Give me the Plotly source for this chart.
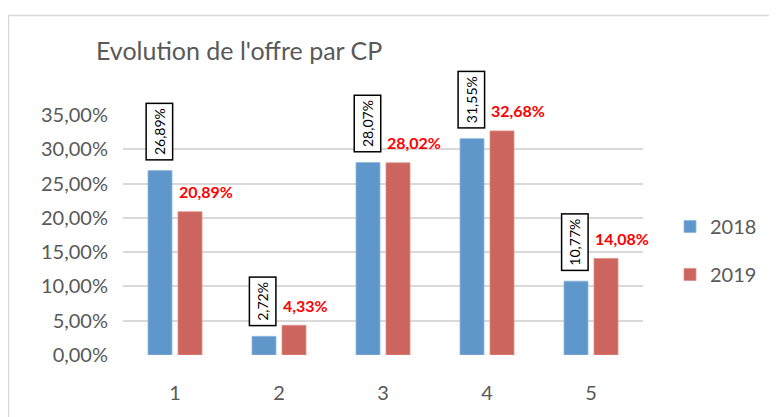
import plotly.graph_objects as go

categories = [1, 2, 3, 4, 5]
values_2018 = [26.89, 2.72, 28.07, 31.55, 10.77]
values_2019 = [20.89, 4.33, 28.02, 32.68, 14.08]
series_names = ["2018", "2019"]
y_ticks = [0, 5, 10, 15, 20, 25, 30, 35]
title_text = "Evolution de l'offre par CP"

BLUE = "#6097CB"
RED = "#CC655D"
FONT = "Lato, 'Open Sans', sans-serif"

def fmt(v):
    return f"{v:.2f}".replace(".", ",") + "%"

OFF = 8  # default page body margin
W, H = 777 - OFF, 417 - OFF
ml, mr, mt, mb = 123 - OFF, 777 - 643, 115 - OFF, 417 - 355
pw, ph = W - ml - mr, H - mt - mb

def px_x(p):
    return (p - OFF - ml) / pw

def px_y(p):
    return (H - mb - (p - OFF)) / ph

fig = go.Figure()
fig.add_trace(go.Bar(x=categories, y=values_2018, name=series_names[0],
                     marker=dict(color=BLUE, line=dict(color="#8db6de", width=0.8)),
                     legendgroup="a"))
fig.add_trace(go.Bar(x=categories, y=values_2019, name=series_names[1],
                     marker=dict(color=RED, line=dict(color="#dd8f89", width=0.8)),
                     legendgroup="b"))

annotations = []
for c, v in zip(categories, values_2018):
    annotations.append(dict(
        x=c, y=v, xref="x", yref="y", text=fmt(v), showarrow=False,
        textangle=-90, xanchor="center", yanchor="bottom", xshift=-16, yshift=10,
        font=dict(family=FONT, size=14, color="#000000"),
        bordercolor="#000000", borderwidth=1.5, borderpad=4, bgcolor="#ffffff"))
for c, v in zip(categories, values_2019):
    annotations.append(dict(
        x=c, y=v, xref="x", yref="y", text="<b>" + fmt(v) + "</b>", showarrow=False,
        xanchor="left", yanchor="middle", xshift=2, yshift=20,
        font=dict(family=FONT, size=16, color="#FF0000")))
annotations.append(dict(
    x=px_x(94), y=px_y(50), xref="paper", yref="paper", text=title_text,
    showarrow=False, xanchor="left", yanchor="middle",
    font=dict(family=FONT, size=25, color="#595959")))

shapes = [dict(type="rect", xref="paper", yref="paper",
               x0=px_x(8.5), x1=px_x(790), y0=px_y(430), y1=px_y(15.5),
               line=dict(color="#d9d9d9", width=1.5), layer="below")]

fig.update_layout(
    width=W, height=H,
    margin=dict(l=ml, r=mr, t=mt, b=mb, autoexpand=False),
    paper_bgcolor="#ffffff", plot_bgcolor="#ffffff",
    barmode="group", bargap=0.423, bargroupgap=0.2,
    font=dict(family=FONT, color="#595959"),
    xaxis=dict(range=[0.5, 5.5], tickvals=categories, ticktext=[str(c) for c in categories],
               showgrid=False, zeroline=False, showline=False,
               tickfont=dict(family=FONT, size=20, color="#595959"),
               ticks="outside", ticklen=20, tickcolor="rgba(0,0,0,0)"),
    yaxis=dict(range=[0, 35], tickvals=y_ticks, ticktext=[fmt(t) for t in y_ticks],
               showgrid=True, gridcolor="#d9d9d9", gridwidth=1.5,
               zeroline=False, showline=False,
               tickfont=dict(family=FONT, size=20, color="#595959"),
               ticks="outside", ticklen=10, tickcolor="rgba(0,0,0,0)"),
    legend=dict(x=px_x(670), y=px_y(207), xanchor="left", yanchor="top",
                font=dict(family=FONT, size=20, color="#595959"),
                tracegroupgap=19, bgcolor="rgba(0,0,0,0)"),
    annotations=annotations, shapes=shapes,
)

fig.write_html("out.html")
